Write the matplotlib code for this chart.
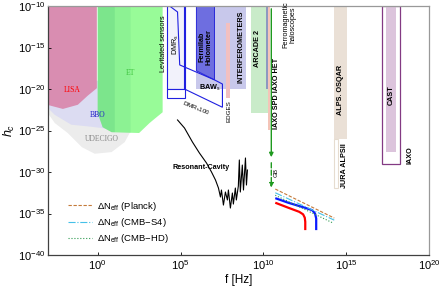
import numpy as np
import matplotlib
matplotlib.use("Agg")
import matplotlib.pyplot as plt

plt.rcParams['font.family'] = ['Liberation Sans', 'DejaVu Sans']
plt.rcParams['mathtext.fontset'] = 'custom'
plt.rcParams['mathtext.rm'] = 'Liberation Sans'
plt.rcParams['mathtext.it'] = 'Liberation Sans:italic'
plt.rcParams['mathtext.bf'] = 'Liberation Sans:bold'

# all values are log10(f [Hz]) and log10(h_c)
# detector regions (polygons)
udecigo_f = [-3.05, -3.05, -2.59, -1.81, -0.96, -0.18, 0.84, 1.63, 1.93, 1.93]
udecigo_h = [-21.0, -22.8, -24.1, -25.3, -27.0, -27.8, -27.6, -26.4, -25.3, -21.0]
bbo_f = [-3.05, -3.05, -2.6, -1.6, -0.6, 0.25, 1.03, 1.03, -3.05]
bbo_h = [-19.0, -22.2, -23.1, -24.3, -24.5, -24.7, -25.0, -19.0, -19.0]
lisa_f = [-3.05, -3.05, -2.1, -1.2, -0.6, -0.05, -0.05]
lisa_h = [-10.0, -21.9, -22.4, -21.9, -20.8, -19.9, -10.0]
et_f = [0.0, 0.0, 0.3, 0.84, 2.5, 3.13, 3.43, 3.92, 3.92]
et_h = [-10.0, -22.9, -24.6, -25.2, -25.3, -24.1, -23.6, -22.8, -10.0]
et2_f = [0.0, 0.0, 0.3, 0.84, 1.99, 1.99]
et2_h = [-10.0, -22.9, -24.6, -25.2, -25.3, -10.0]
et3_f = [0.0, 0.0, 0.3, 0.84, 1.03, 1.03]
et3_h = [-10.0, -22.9, -24.6, -25.2, -25.2, -10.0]

dmr_f = [4.16, 5.24]
dmr_h = [-10.0, -20.0]
dmr_low_h = [-20.0, -21.1]
dmr100_f = [4.34, 4.82, 4.95, 7.05, 7.53, 7.53, 5.24, 5.24]
dmr100_h = [-10.0, -10.72, -17.1, -18.9, -19.4, -22.2, -20.0, -10.0]
interf_f = [5.96, 8.98]
interf_h = [-10.0, -20.0]
holo_f = [5.96, 7.05, 7.05, 5.96]
holo_h = [-10.0, -10.0, -18.9, -17.8]
edges_f = [7.77, 8.01]
edges_h = [-12.05, -21.1]
arcade_f = [9.28, 10.36]
arcade_h = [-10.0, -22.9]
strip_f = [10.18, 10.3]
strip_h = [-10.0, -20.0]
ferro_f = [10.3, 10.42]
ferro_h = [-10.0, -24.9]
alps_f = [14.28, 15.06]
alps_h = [-10.0, -26.0]
jura_f = [14.28, 14.52]
jura_h = [-26.0, -31.9]
cast_f = [17.17, 18.25]
cast_h = [-10.0, -29.0]
cast_in_f = [17.41, 18.01]
cast_in_h = [-10.0, -27.6]

# resonant cavity curve
rc_f = [4.82, 5.24, 5.72, 6.14, 6.57, 6.87, 7.11, 7.29, 7.41, 7.47, 7.59, 7.71, 7.83,
        7.89, 8.01, 8.13, 8.19, 8.31, 8.37, 8.49, 8.55, 8.61, 8.73, 8.80, 8.92, 8.98, 9.04]
rc_h = [-23.73, -24.70, -26.39, -27.71, -28.92, -30.0, -30.96, -31.93, -33.01, -32.17,
        -33.98, -32.41, -33.37, -32.17, -34.34, -32.53, -33.86, -31.93, -33.37, -31.69,
        -28.55, -32.41, -29.16, -32.17, -28.31, -31.57, -29.76]

# GB arrow
gb_f = 10.48
gb_h = [-10.0, -28.55, -32.2]

# signal curves
red_f = [10.72, 11.5, 12.17, 12.4, 12.5, 12.53, 12.53]
red_h = [-33.7, -34.3, -34.8, -35.1, -35.5, -36.0, -37.0]
blue_f = [10.72, 11.5, 12.5, 12.95, 13.12, 13.19, 13.19]
blue_h = [-33.15, -33.7, -34.3, -34.6, -35.0, -35.6, -37.0]
planck_f = [10.72, 14.28]
planck_h = [-32.05, -35.55]
s4_f = [10.72, 14.28]
s4_h = [-32.5, -35.8]
hd_f = [10.72, 14.16]
hd_h = [-32.8, -36.1]


def P(v):
    return 10 ** np.array(v, dtype=float)


def rect(ax, f, h, **kw):
    ax.fill(P([f[0], f[1], f[1], f[0]]), P([h[0], h[0], h[1], h[1]]), **kw)


fig = plt.figure(figsize=(4.42, 2.89), dpi=100)
ax = fig.add_axes([0.1086, 0.1176, 0.862, 0.8616])
ax.set_xscale('log')
ax.set_yscale('log')

ax.fill(P(udecigo_f), P(udecigo_h), color='#ececec', lw=0)
ax.fill(P(bbo_f), P(bbo_h), color='#dcdcf2', lw=0)
ax.fill(P(lisa_f), P(lisa_h), color='#d98db1', lw=0)
ax.fill(P(et_f), P(et_h), color='#98fb98', lw=0)
ax.fill(P(et2_f), P(et2_h), color='#3cb371', alpha=0.12, lw=0)
ax.fill(P(et3_f), P(et3_h), color='#3cb371', alpha=0.2, lw=0)

rect(ax, interf_f, interf_h, color='#c8c8eb', lw=0)
ax.fill(P(holo_f), P(holo_h), facecolor='#6e6ee0', edgecolor='#2a2ad8', lw=0.7)
rect(ax, dmr_f, dmr_h, facecolor='#f2f2fb', edgecolor='#2020e0', lw=0.8)
rect(ax, dmr_f, dmr_low_h, facecolor='white', edgecolor='#2020e0', lw=0.8)
ax.fill(P(dmr100_f), P(dmr100_h), facecolor='none', edgecolor='#2020e0', lw=0.8)
rect(ax, edges_f, edges_h, color='#f2c0c0', lw=0)
rect(ax, arcade_f, arcade_h, color='#c9ebc9', lw=0)
rect(ax, strip_f, strip_h, color='#8e98c0', lw=0)
rect(ax, ferro_f, ferro_h, color='#f4c4b8', lw=0)
rect(ax, alps_f, alps_h, color='#eae0d6', lw=0)
rect(ax, jura_f, jura_h, facecolor='white', edgecolor='#e6dccf', lw=0.8)
rect(ax, cast_f, cast_h, facecolor='white', edgecolor='#833a83', lw=0.9)
rect(ax, cast_in_f, cast_in_h, color='#dcc4dc', lw=0)

ax.plot(P(rc_f), P(rc_h), color='black', lw=0.8)

ax.annotate('', xy=(P(gb_f), P(gb_h[1])), xytext=(P(gb_f), P(gb_h[0])),
            arrowprops=dict(arrowstyle='-|>', color='#1f9a1f', lw=1.0, mutation_scale=6))
ax.annotate('', xy=(P(gb_f), P(gb_h[2])), xytext=(P(gb_f), P(gb_h[1])),
            arrowprops=dict(arrowstyle='-|>', color='#1f9a1f', lw=1.0, ls='--', mutation_scale=6))

ax.plot(P(red_f), P(red_h), color='red', lw=1.6, solid_capstyle='butt')
ax.plot(P(blue_f), P(blue_h), color='#0a1aff', lw=1.6, solid_capstyle='butt')
ax.plot(P(planck_f), P(planck_h), color='#c47a3a', lw=0.8, ls='--', dashes=(3, 1.5),
        label=r'$\Delta$N$_{\rm eff}$ (Planck)')
ax.plot(P(s4_f), P(s4_h), color='#45c0e8', lw=0.8, ls='-.',
        label=r'$\Delta$N$_{\rm eff}$ (CMB$-$S4)')
ax.plot(P(hd_f), P(hd_h), color='#2e9a50', lw=0.8, ls=':',
        label=r'$\Delta$N$_{\rm eff}$ (CMB$-$HD)')

# labels inside the plot
serif = ['Liberation Serif', 'DejaVu Serif']
ax.text(P(-1.51), P(-20.1), 'LISA', color='red', fontsize=5.5, family=serif, ha='center', va='center')
ax.text(P(0.0), P(-23.1), 'BBO', color='#2020c8', fontsize=5.5, family=serif, ha='center', va='center')
ax.text(P(0.24), P(-26.0), 'UDECIGO', color='#888888', fontsize=5.5, family=serif, ha='center', va='center')
ax.text(P(1.99), P(-18.1), 'ET', color='#3ec43e', fontsize=5.5, family=serif, ha='center', va='center')

tk = dict(fontsize=5.2, ha='center', va='center', rotation=90)
ax.text(P(3.98), P(-14.5), 'Levitated sensors', **tk)
ax.text(P(4.7), P(-14.6), r'DMR$_{\rm s}$', **tk)
ax.text(P(6.5), P(-14.9), 'Fermilab\nHolometer', fontweight='bold', linespacing=1.0, **tk)
ax.text(P(8.67), P(-14.9), 'INTERFEROMETERS', fontweight='bold', **tk)
ax.text(P(9.64), P(-15.1), 'ARCADE 2', fontweight='bold', **tk)
ax.text(P(6.8), P(-19.9), r'BAW$_{\rm s}$', fontsize=5.2, fontweight='bold', ha='center', va='center')
ax.text(P(5.96), P(-22.3), r'DMR$_{\rm s}$100', fontsize=4.5, ha='center', va='center', rotation=-22)
ax.text(P(7.9), P(-22.65), 'EDGES', fontsize=4.5, ha='center', va='center', rotation=90)
ax.text(P(10.8), P(-20.5), 'IAXO SPD IAXO HET', fontweight='bold', **tk)
ax.text(P(11.57), P(-12.2), 'Ferromagnetic\nhaloscopes', linespacing=1.1, **tk)
ax.text(P(10.8), P(-30.0), 'GB', fontsize=4.5, ha='center', va='center', rotation=90)
ax.text(P(6.27), P(-29.4), 'Resonant-Cavity', fontsize=5.2, fontweight='bold', ha='center', va='center')
ax.text(P(14.64), P(-20.1), 'ALPS. OSQAR', fontweight='bold', **tk)
ax.text(P(14.88), P(-29.2), 'JURA ALPSII', fontweight='bold', **tk)
ax.text(P(17.71), P(-20.7), 'CAST', fontweight='bold', **tk)
ax.text(P(18.86), P(-27.95), 'IAXO', fontweight='bold', **tk)

ax.set_xlim(1e-3, 1e20)
ax.set_ylim(1e-40, 1e-10)
ax.set_xticks([1e0, 1e5, 1e10, 1e15, 1e20])
ax.set_yticks([1e-40, 1e-35, 1e-30, 1e-25, 1e-20, 1e-15, 1e-10])
ax.minorticks_off()
ax.tick_params(direction='in', length=2.5, width=0.6, labelsize=8, pad=2)
ax.set_xlabel('f [Hz]', fontsize=8.5, labelpad=2)
ax.set_ylabel(r'$h_c$', fontsize=9, labelpad=1)
for s in ['left', 'bottom']:
    ax.spines[s].set_color('0.25')
for s in ['top', 'right']:
    ax.spines[s].set_color('0.6')
for s in ax.spines.values():
    s.set_linewidth(0.9)

ax.legend(loc='lower left', bbox_to_anchor=(0.03, 0.005), frameon=False, fontsize=6.8,
          handlelength=2.6, handletextpad=0.5, labelspacing=0.35)

fig.savefig('out.png', dpi=100)
